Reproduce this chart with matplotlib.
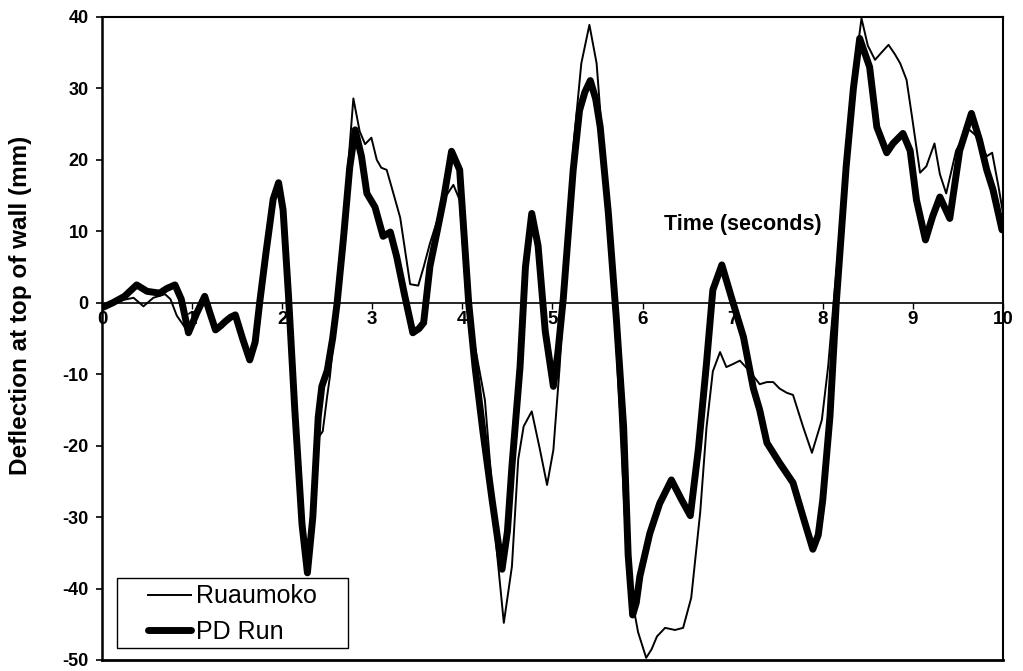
import matplotlib.pyplot as plt
from matplotlib.patches import Rectangle

plt.rcParams['font.family'] = ['Liberation Sans', 'DejaVu Sans']
plt.rcParams['axes.unicode_minus'] = False

# PD Run (thick line)
pd_t = [0, 0.12, 0.25, 0.385, 0.5, 0.64, 0.72, 0.81, 0.88, 0.96, 1.05, 1.14, 1.2, 1.26, 1.32,
        1.37, 1.43, 1.48, 1.56, 1.64, 1.70, 1.75, 1.82, 1.90, 1.96, 2.01, 2.07, 2.14, 2.22,
        2.28, 2.34, 2.40, 2.44, 2.50, 2.56, 2.61, 2.68, 2.75, 2.81, 2.88, 2.94, 3.03, 3.12,
        3.20, 3.27, 3.36, 3.45, 3.52, 3.57, 3.64, 3.72, 3.79, 3.88, 3.97, 4.07, 4.14, 4.23,
        4.33, 4.44, 4.50, 4.55, 4.64, 4.70, 4.77, 4.84, 4.92, 5.01, 5.06, 5.12, 5.23, 5.30,
        5.36, 5.42, 5.48, 5.53, 5.62, 5.71, 5.79, 5.84, 5.89, 5.93, 5.97, 6.08, 6.19, 6.32,
        6.43, 6.53, 6.62, 6.71, 6.78, 6.88, 6.99, 7.12, 7.23, 7.30, 7.38, 7.52, 7.67, 7.78,
        7.89, 7.95, 8.00, 8.08, 8.15, 8.26, 8.34, 8.41, 8.52, 8.60, 8.71, 8.78, 8.89, 8.97,
        9.04, 9.14, 9.22, 9.30, 9.41, 9.52, 9.65, 9.74, 9.82, 9.89, 9.99]
pd_y = [-0.7, 0.0, 0.9, 2.5, 1.6, 1.35, 2.0, 2.5, 0.5, -4.2, -1.5, 0.9, -1.5, -3.8, -3.2,
        -2.6, -2.0, -1.7, -5.0, -8.0, -5.5, 0.0, 7.0, 14.5, 16.8, 13.0, 1.0, -15.0, -31.0,
        -37.8, -30.0, -16.0, -11.7, -9.5, -5.0, 0.0, 9.0, 19.0, 24.2, 20.5, 15.3, 13.4, 9.3,
        9.9, 6.5, 1.0, -4.2, -3.6, -2.8, 5.1, 10.0, 14.4, 21.2, 18.6, 0.0, -8.9, -18.2,
        -27.6, -37.3, -32.0, -22.9, -9.0, 5.0, 12.5, 8.0, -4.0, -11.7, -7.0, 0.6, 18.6, 26.9,
        29.5, 31.1, 28.5, 24.6, 12.6, -2.4, -17.4, -35.3, -43.7, -42.0, -38.3, -32.3, -28.1, -24.8,
        -27.5, -29.8, -20.4, -8.4, 1.8, 5.3, 0.6, -4.8, -12.0, -15.0, -19.6, -22.4, -25.2, -29.9,
        -34.5, -32.5, -27.6, -15.9, 0.0, 19.1, 30.0, 37.0, 33.0, 24.6, 21.0, 22.3, 23.7, 21.3,
        14.4, 8.8, 12.1, 14.8, 11.8, 21.3, 26.5, 22.8, 18.6, 15.8, 10.2]

# Ruaumoko (thin line)
ru_t = [0, 0.12, 0.24, 0.35, 0.46, 0.57, 0.70, 0.76, 0.83, 0.94, 1.03, 1.12, 1.19, 1.27, 1.33,
        1.40, 1.47, 1.55, 1.62, 1.66, 1.70, 1.75, 1.82, 1.90, 1.96, 2.01, 2.07, 2.14, 2.22,
        2.28, 2.34, 2.38, 2.41, 2.45, 2.50, 2.53, 2.58, 2.62, 2.70, 2.79, 2.86, 2.92, 2.99,
        3.05, 3.10, 3.16, 3.23, 3.31, 3.42, 3.51, 3.57, 3.64, 3.72, 3.79, 3.90, 3.97, 4.05,
        4.16, 4.25, 4.31, 4.38, 4.46, 4.55, 4.62, 4.68, 4.77, 4.86, 4.94, 5.01, 5.08, 5.12,
        5.23, 5.32, 5.41, 5.49, 5.58, 5.66, 5.73, 5.80, 5.88, 5.95, 6.04, 6.10, 6.16, 6.25,
        6.36, 6.45, 6.54, 6.64, 6.71, 6.78, 6.86, 6.93, 7.00, 7.08, 7.19, 7.30, 7.38, 7.45,
        7.52, 7.60, 7.67, 7.78, 7.88, 7.99, 8.06, 8.12, 8.26, 8.36, 8.43, 8.50, 8.58, 8.65,
        8.73, 8.80, 8.86, 8.93, 8.99, 9.08, 9.15, 9.24, 9.30, 9.37, 9.48, 9.61, 9.71, 9.82,
        9.88, 9.95, 10.0]
ru_y = [-0.7, -0.1, 0.4, 0.7, -0.5, 0.7, 1.2, 0.5, -1.8, -3.8, -1.5, 0.5, -1.2, -3.5, -2.9,
        -2.4, -1.8, -4.5, -7.2, -6.8, -5.0, 0.0, 7.0, 14.5, 16.5, 13.0, 1.0, -15.0, -31.0,
        -37.5, -30.5, -22.0, -18.7, -18.0, -13.0, -10.3, -4.0, 0.0, 14.0, 28.6, 24.0, 22.2, 23.1,
        20.0, 18.9, 18.6, 15.5, 11.9, 2.6, 2.4, 5.0, 8.3, 11.5, 14.4, 16.5, 14.4, 0.0,
        -7.5, -13.6, -22.9, -34.5, -44.8, -36.9, -21.9, -17.3, -15.2, -20.5, -25.5, -20.6, -8.9, 0.0,
        21.6, 33.5, 38.9, 33.5, 18.6, 6.6, -11.4, -29.3, -41.3, -46.1, -49.7, -48.5, -46.7, -45.5,
        -45.8, -45.5, -41.3, -29.3, -17.4, -9.6, -6.9, -9.0, -8.6, -8.1, -9.6, -11.4, -11.1, -11.1,
        -12.0, -12.6, -12.9, -17.3, -21.0, -16.4, -8.9, 0.0, 19.5, 33.0, 39.8, 36.0, 34.0, 35.0,
        36.1, 34.8, 33.5, 31.2, 26.1, 18.2, 19.1, 22.3, 18.0, 15.3, 21.3, 24.4, 23.3, 20.5,
        21.0, 16.3, 12.6]

x_ticks = [0, 1, 2, 3, 4, 5, 6, 7, 8, 9, 10]
y_ticks = [-50, -40, -30, -20, -10, 0, 10, 20, 30, 40]

fig = plt.figure(figsize=(10.23, 6.71), dpi=100)
ax = fig.add_axes([0.0997, 0.0164, 0.8807, 0.9583])

ax.plot(ru_t, ru_y, color='black', linewidth=1.4, label='Ruaumoko', zorder=3)
ax.plot(pd_t, pd_y, color='black', linewidth=5, label='PD Run', zorder=3,
        solid_joinstyle='round', solid_capstyle='round')

ax.set_xlim(0, 10)
ax.set_ylim(-50, 40)

# x axis sits on y = 0, frame kept round the plot area
ax.spines['bottom'].set_position(('data', 0))
ax.spines['bottom'].set_linewidth(1.2)
ax.spines['left'].set_linewidth(1.8)
ax.spines['top'].set_linewidth(1.5)
ax.spines['right'].set_linewidth(1.5)
ax.axhline(-50, color='black', linewidth=2, clip_on=False)

ax.set_xticks(x_ticks)
ax.set_yticks(y_ticks)
ax.tick_params(axis='x', direction='out', length=4, width=1, pad=2, labelsize=13.5)
ax.tick_params(axis='y', direction='out', length=4.5, width=1.2, pad=5, labelsize=13)
for lab in ax.get_xticklabels() + ax.get_yticklabels():
    lab.set_fontweight('bold')

ax.set_ylabel('Deflection at top of wall (mm)', fontsize=17.5, fontweight='bold')
ax.yaxis.set_label_coords(-0.078, 0.552)
ax.text(0.711, 0.677, 'Time (seconds)', transform=ax.transAxes, ha='center', va='center',
        fontsize=15.5, fontweight='bold')

# legend box drawn by hand so the side padding can be wider than the top/bottom
ax.add_patch(Rectangle((0.0166, 0.0187), 0.2564, 0.1089, transform=ax.transAxes,
                       facecolor='white', edgecolor='black', linewidth=1.0, zorder=4))
leg = ax.legend(loc='center', bbox_to_anchor=(0.1448, 0.0715), borderaxespad=0,
                fontsize=18, frameon=False, handlelength=1.7, handletextpad=0.2,
                borderpad=0.1, labelspacing=0.45)
leg.set_zorder(5)

plt.savefig('out.png', dpi=100)
